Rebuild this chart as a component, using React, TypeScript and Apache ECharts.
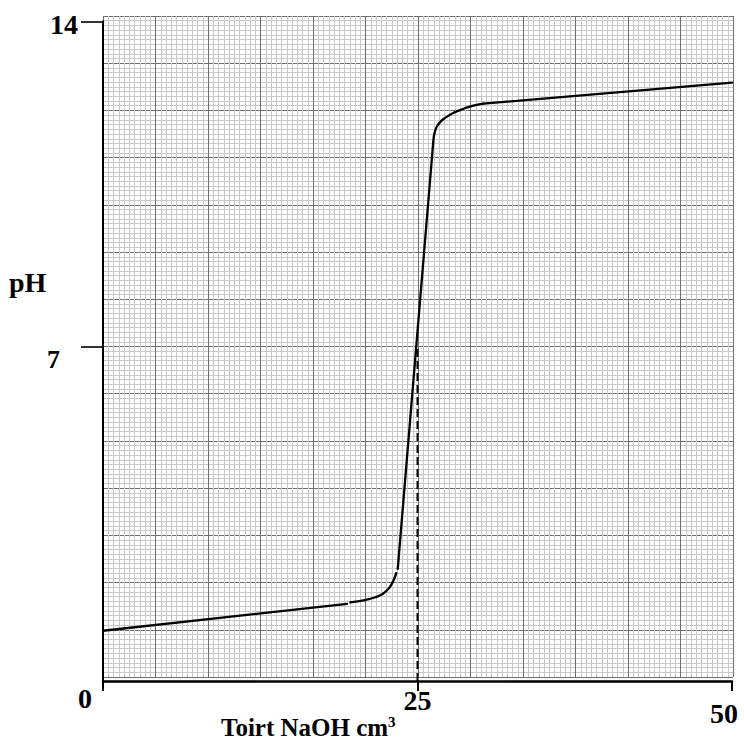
import React, { useEffect, useRef } from "react";
import * as echarts from "echarts";

// tick labels
const xTickValues = [0, 25, 50];
const xTickLabels = ["0", "25", "50"];
const yTickValues = [7, 14];
const yTickLabels = ["7", "14"];
const xTitle = "Toirt NaOH cm";
const xTitleSup = "3";
const yTitle = "pH";

// titration curve: [volume NaOH / cm3, pH]
const seg1X = [0, 19.4];
const seg1Y = [0.9, 1.48];
const seg2X = [19.65, 20.84, 21.64, 22.28, 22.75, 23.07, 23.31];
const seg2Y = [1.51, 1.56, 1.62, 1.7, 1.82, 1.97, 2.14];
const seg3X = [23.43, 26.25];
const seg3Y = [2.23, 11.4];
const seg4X = [26.25, 26.37, 26.57, 26.89, 27.29, 27.84, 28.56, 29.36, 30.23];
const seg4Y = [11.4, 11.62, 11.75, 11.86, 11.94, 12.03, 12.11, 12.18, 12.23];
const seg5X = [30.23, 50];
const seg5Y = [12.23, 12.68];
// equivalence point marker
const eqX = [25, 25];
const eqY = [-0.18, 7.05];

const FONT = "Liberation Serif";

const zip = (xs: number[], ys: number[]) => xs.map((x, i) => [x, ys[i]]);

export default function App() {
  const ref = useRef<HTMLDivElement>(null);
  useEffect(() => {
    if (!ref.current) return;
    const chart = echarts.init(ref.current, null, { renderer: "svg" });
    const lineSeries = (xs: number[], ys: number[], smooth: boolean | number) => ({
      type: "line",
      xAxisIndex: 1,
      yAxisIndex: 1,
      data: zip(xs, ys),
      showSymbol: false,
      symbol: "none",
      smooth,
      lineStyle: { color: "#000", width: 2.3, cap: "round", join: "round" },
      z: 5,
    });
    const base = { fontFamily: FONT, fontWeight: "bold", color: "#000" };
    const xRich: any = {
      a: { ...base, fontSize: 28, lineHeight: 28, padding: [0, 36, 0, 0] },
      b: { ...base, fontSize: 28, lineHeight: 26, padding: [5, 0, 0, 0] },
      c: { ...base, fontSize: 28, lineHeight: 28, padding: [31, 16, 0, 0] },
    };
    const yRich: any = {
      a: { ...base, fontSize: 26, lineHeight: 26, padding: [26, 18, 0, 0] },
      b: { ...base, fontSize: 28, lineHeight: 28, padding: [6, 0, 0, 0] },
    };
    const paperMajor = { show: true, lineStyle: { color: "#6e6e6e", width: 1 } };
    const paperMinor = { show: true, lineStyle: { color: "#c9c9c9", width: 1 } };
    const option: any = {
      animation: false,
      backgroundColor: "#fff",
      grid: [
        { left: 103, top: 16, width: 630, height: 661, outerBoundsMode: "none", containLabel: false },
        { left: 103, top: 21.3, width: 629, height: 659.7, outerBoundsMode: "none", containLabel: false },
      ],
      xAxis: [
        {
          type: "value",
          gridIndex: 0,
          min: 0,
          max: 12,
          interval: 1,
          axisLine: { show: false },
          axisTick: { show: false },
          axisLabel: { show: false },
          splitLine: paperMajor,
          minorTick: { show: false, splitNumber: 10 },
          minorSplitLine: paperMinor,
        },
        {
          type: "value",
          gridIndex: 1,
          min: 0,
          max: 50,
          position: "bottom",
          axisLine: { show: true, onZero: false, lineStyle: { color: "#000", width: 2.5 } },
          axisTick: { show: true, customValues: xTickValues, length: 10, lineStyle: { color: "#000", width: 2 } },
          axisLabel: {
            show: true,
            customValues: xTickValues,
            margin: 17,
            verticalAlign: "middle",
            formatter: (v: number) => {
              const i = xTickValues.indexOf(v);
              const key = ["a", "b", "c"][i];
              return `{${key}|${xTickLabels[i]}}`;
            },
            rich: xRich,
          },
          splitLine: { show: false },
        },
      ],
      yAxis: [
        {
          type: "value",
          gridIndex: 0,
          min: 0,
          max: 14,
          interval: 1,
          axisLine: { show: false },
          axisTick: { show: false },
          axisLabel: { show: false },
          splitLine: paperMajor,
          minorTick: { show: false, splitNumber: 10 },
          minorSplitLine: paperMinor,
        },
        {
          type: "value",
          gridIndex: 1,
          min: -0.18,
          max: 14,
          axisLine: { show: true, onZero: false, lineStyle: { color: "#000", width: 2 } },
          axisTick: { show: true, customValues: yTickValues, length: 22, lineStyle: { color: "#000", width: 1.6 } },
          axisLabel: {
            show: true,
            customValues: yTickValues,
            margin: 25,
            verticalAlign: "middle",
            formatter: (v: number) => {
              const i = yTickValues.indexOf(v);
              const key = ["a", "b"][i];
              return `{${key}|${yTickLabels[i]}}`;
            },
            rich: yRich,
          },
          splitLine: { show: false },
        },
      ],
      graphic: [
        {
          type: "text",
          left: 9,
          top: 268,
          style: { text: yTitle, fontFamily: FONT, fontWeight: "bold", fontSize: 28, fill: "#000" },
        },
        {
          type: "text",
          x: 221,
          y: 727,
          style: {
            text: `{t|${xTitle}}{s|${xTitleSup}}`,
            align: "left",
            verticalAlign: "middle",
            rich: {
              t: { fontFamily: FONT, fontWeight: "bold", fontSize: 25, fill: "#000" },
              s: { fontFamily: FONT, fontWeight: "bold", fontSize: 15, fill: "#000", padding: [0, 0, 11, 0] },
            },
          },
        },
      ],
      series: [
        lineSeries(seg1X, seg1Y, false),
        lineSeries(seg2X, seg2Y, 0.5),
        lineSeries(seg3X, seg3Y, false),
        lineSeries(seg4X, seg4Y, 0.5),
        lineSeries(seg5X, seg5Y, false),
        {
          type: "line",
          xAxisIndex: 1,
          yAxisIndex: 1,
          data: zip(eqX, eqY),
          showSymbol: false,
          symbol: "none",
          lineStyle: { color: "#000", width: 2, type: [8, 4] },
          z: 4,
        },
      ],
    };
    chart.setOption(option);
    return () => chart.dispose();
  }, []);
  return (
    <div
      ref={ref}
      style={{ position: "absolute", left: 0, top: 0, width: 744, height: 744 }}
    />
  );
}
